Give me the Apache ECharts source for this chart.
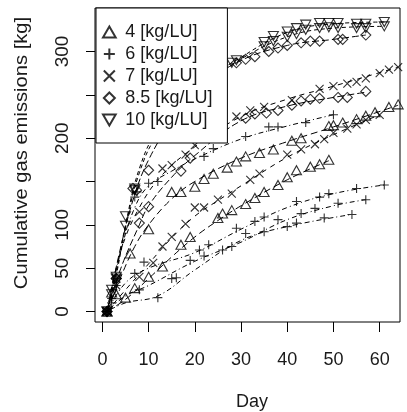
<!DOCTYPE html>
<html><head><meta charset="utf-8">
<script src="https://cdn.jsdelivr.net/npm/echarts@6/dist/echarts.min.js"></script>
<style>html,body{margin:0;padding:0;background:#fff}#c{width:407px;height:412px}</style>
</head><body><div id="c"></div>
<script>
// ---- data: [day, cumulative kg] ----
const groupNames = ['4 [kg/LU]','6 [kg/LU]','7 [kg/LU]','8.5 [kg/LU]','10 [kg/LU]'];
const xTicks = [0,10,20,30,40,50,60];
const yTicks = [0,50,100,150,200,250,300];
const yTickLabels = [0,50,100,200,300];

// 4 kg/LU (triangles)
const T1 = [[1,0],[2,22],[6,67],[10,95],[15,138],[17,138],[20,144],[22,153],[24,159],[27,166],[29,173],[31,179],[34,183],[37,187],[41,197],[43,200],[49,214],[50,215],[52,218],[55,222],[57,226],[59,230],[62,236],[64,239]];
const T2 = [[1,0],[3,20],[5,16],[7,27],[10,40],[13,52],[17,77],[19,86],[25,108],[26,113],[28,117],[31,124],[33,131],[35,138],[38,146],[40,155],[42,163],[45,167],[47,170],[49,175]];
// 6 kg/LU (plus)
const P1 = [[1,0],[3,38],[7,132],[7.5,138],[10,148],[12,150],[22,179],[24,188],[31,202],[36,213],[38,213],[44,218],[50,227]];
const P2 = [[1,0],[3,30],[7,44],[9,57],[19,59],[21,71],[23,77],[29,96],[33,104],[35,109],[42,127],[47,132],[49,136],[55,142],[61,146]];
const P3 = [[1,0],[2,15],[8,25],[15,38],[16,39],[22,64],[28,75],[35,92],[38,106],[43,113],[46,119],[51,125],[57,129]];
const P4 = [[1,0],[2,10],[12,16],[26,71],[31,90],[40,98],[42,102],[48,108],[54,112]];
// 7 kg/LU (cross)
const X1 = [[1,0],[3,38],[8,115],[13,165],[15,169],[18,181],[20,192],[29,225],[32,232],[35,236],[41,244],[47,257],[50,260],[53,263],[55,265],[57,269],[60,275],[62,279],[64,282]];
const X2 = [[1,0],[3,30],[8,40],[11,56],[13,75],[15,86],[18,101],[20,120],[22,120],[25,129],[28,136],[32,152],[34,159],[40,181],[43,187],[46,193],[48,199],[50,206],[53,211],[55,216],[57,221],[60,227]];
// 8.5 kg/LU (diamond)
const D1 = [[1,0],[3,38],[6.6,142],[7.4,140],[10,163],[29,287],[31,291],[33,294],[36,300],[38,304],[40,307],[43,310],[45,312],[47,312],[51,314],[52,314],[57,319]];
const D2 = [[1,0],[3,38],[8,102],[10,121],[17,162],[19,177],[31,223],[33,228],[35.5,229],[38,232],[41,238],[43,243],[45,245],[47,246],[51,247],[53,247],[57,254]];
// 10 kg/LU (down triangle)
const V1 = [[1,0],[2,20],[3,38],[5,110],[7,142],[29,290],[35,311],[37,318],[40,323],[42,327],[44,331],[47,333],[49,333],[51,333],[55,332],[57,332],[61,334]];
const V2 = [[1,0],[2,25],[3,40],[5,99],[7,140],[28,287],[35,306],[37,312],[40,317],[42,320],[44,325],[47,327],[49,328],[51,327],[55,327],[57,327],[61,329]];

// fitted curves, values
const fitT1 = [[1,0],[4,40],[7,75],[10,100],[15,130],[20,150],[30,177],[40,196],[50,213],[64,238]];
const fitT2 = [[1,0],[5,14],[10,38],[15,63],[20,86],[25,105],[30,122],[40,152],[49,174]];
const fitP1 = [[1,0],[4,70],[7,120],[10,145],[15,162],[20,176],[30,199],[40,214],[50,227]];
const fitP2 = [[1,0],[5,33],[10,50],[20,68],[30,95],[40,120],[50,136],[61,146]];
const fitP3 = [[1,0],[5,18],[10,30],[20,58],[30,80],[40,106],[50,122],[57,129]];
const fitP4 = [[1,0],[5,10],[12,18],[20,48],[30,82],[40,98],[54,112]];
const fitX1 = [[1,0],[4,70],[8,120],[13,158],[20,190],[30,225],[40,245],[50,260],[64,282]];
const fitX2 = [[1,0],[5,25],[10,55],[15,85],[20,110],[25,128],[30,145],[40,178],[50,204],[60,227]];
const fitD1 = [[1,0],[4,75],[7,135],[10,175],[15,220],[20,252],[29,287],[40,307],[50,314],[57,319]];
const fitD2 = [[1,0],[4,50],[8,100],[10,122],[15,155],[20,180],[30,220],[40,237],[50,247],[57,253]];
const fitV1 = [[1,0],[3,45],[5,100],[8,165],[12,210],[20,258],[29,290],[40,322],[50,332],[61,334]];
const fitV2 = [[1,0],[3,42],[5,97],[8,160],[12,205],[20,254],[28,285],[40,317],[50,327],[61,329]];

// ---- styling ----
const FONT = 'Liberation Sans';
const TXT = '#1a1a1a';
const SYM = {
  tri:  'path://M5,0L10,8.66L0,8.66Z',
  plus: 'path://M5,0V10M0,5H10',
  cross:'path://M0,0L10,10M0,10L10,0',
  dia:  'path://M5,0L10,5L5,10L0,5Z',
  dtri: 'path://M0,0L10,0L5,8.66Z'
};
function pts(name, data, sym, size) {
  return { name, type:'scatter', data, symbol:sym, symbolSize:size, z:3,
    itemStyle:{ color:'rgba(0,0,0,0)', borderColor:'#000', borderWidth:1.1 },
    emphasis:{disabled:true} };
}
function fit(data, dash) {
  return { name:'fit', type:'line', data, smooth:0.4, showSymbol:false, symbol:'none', z:2,
    lineStyle:{ color:'#000', width:1, type:dash }, emphasis:{disabled:true} };
}
const dT=[7,4], dP=[1,3,5,3], dX=[5,5], dD=[7,3], dV=[4,3];

const series = [
  fit(fitT1,dT), fit(fitT2,dT),
  fit(fitP1,dP), fit(fitP2,dP), fit(fitP3,dP), fit(fitP4,dP),
  fit(fitX1,dX), fit(fitX2,dX),
  fit(fitD1,dD), fit(fitD2,dD),
  fit(fitV1,dV), fit(fitV2,dV),
  pts(groupNames[0], T1, SYM.tri, [10,9]), pts(groupNames[0], T2, SYM.tri, [10,9]),
  pts(groupNames[1], P1, SYM.plus, 9), pts(groupNames[1], P2, SYM.plus, 9),
  pts(groupNames[1], P3, SYM.plus, 9), pts(groupNames[1], P4, SYM.plus, 9),
  pts(groupNames[2], X1, SYM.cross, 8), pts(groupNames[2], X2, SYM.cross, 8),
  pts(groupNames[3], D1, SYM.dia, 10), pts(groupNames[3], D2, SYM.dia, 10),
  pts(groupNames[4], V1, SYM.dtri, [10,9]), pts(groupNames[4], V2, SYM.dtri, [10,9])
];

const chart = echarts.init(document.getElementById('c'), null, {renderer:'canvas'});
chart.setOption({
  animation:false,
  backgroundColor:'#fff',
  grid:{ left:95, right:7, top:8, bottom:90, show:true, borderColor:'#000', borderWidth:1, backgroundColor:'rgba(0,0,0,0)' },
  xAxis:{ type:'value', min:-1.6, max:64.4,
    axisLine:{show:false, onZero:false},
    axisTick:{show:true, length:10, customValues:xTicks, lineStyle:{color:'#000', width:1}},
    axisLabel:{customValues:xTicks, margin:29, fontFamily:FONT, fontSize:18, color:TXT},
    splitLine:{show:false} },
  yAxis:{ type:'value', min:-12.1, max:350.2,
    axisLine:{show:false, onZero:false},
    axisTick:{show:true, length:9, customValues:yTicks, lineStyle:{color:'#000', width:1}},
    axisLabel:{customValues:yTickLabels, rotate:90, margin:23, fontFamily:FONT, fontSize:19, color:TXT},
    splitLine:{show:false} },
  legend:{ data:groupNames, orient:'vertical', left:96, top:8,
    padding:[15,15,14,6], itemWidth:22, itemHeight:11, itemGap:4,
    backgroundColor:'#fff', borderColor:'#000', borderWidth:1, borderRadius:0,
    selectedMode:false, z:10,
    textStyle:{fontFamily:FONT, fontSize:18, color:TXT, lineHeight:18} },
  graphic:[
    { type:'text', x:252, y:402, style:{ text:'Day', font:'18px "Liberation Sans"', fill:TXT, align:'center', verticalAlign:'middle' } },
    { type:'text', x:22, y:153, rotation:Math.PI/2, scaleX:1.12, style:{ text:'Cumulative gas emissions [kg]', font:'18px "Liberation Sans"', fill:TXT, align:'center', verticalAlign:'middle' } }
  ],
  series
});
</script></body></html>
